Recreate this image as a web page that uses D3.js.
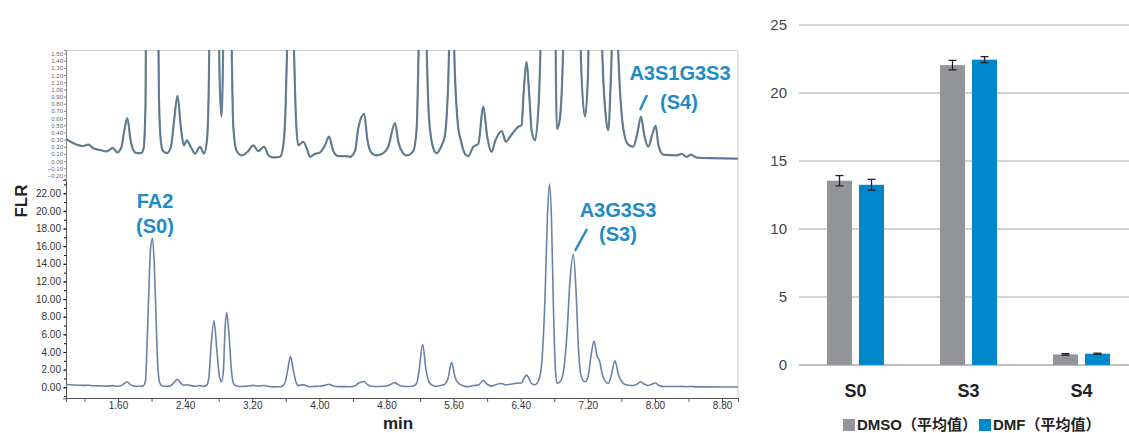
<!DOCTYPE html>
<html>
<head>
<meta charset="utf-8">
<script src="https://cdn.jsdelivr.net/npm/d3@7"></script>
<style>
  body { margin: 0; background: #fff; }
  svg { display: block; font-family: "Liberation Sans", Arial, sans-serif; }
</style>
</head>
<body>
<div id="chart"></div>
<script>
// ── Chromatogramme (temps de rétention en min, signal FLR) ──
const retention = [
  0.980, 1.067, 1.186, 1.246, 1.305, 1.385, 1.465, 1.537, 1.591, 1.642,
  1.671, 1.711, 1.749, 1.779, 1.814, 1.874, 1.904, 1.928, 1.945, 1.966,
  1.987, 2.011, 2.032, 2.053, 2.071, 2.088, 2.109, 2.136, 2.184, 2.231,
  2.267, 2.309, 2.351, 2.386, 2.419, 2.470, 2.518, 2.577, 2.625, 2.661,
  2.684, 2.708, 2.744, 2.780, 2.810, 2.833, 2.857, 2.875, 2.895, 2.923,
  2.953, 2.976, 3.015, 3.074, 3.153, 3.212, 3.272, 3.340, 3.394, 3.451,
  3.531, 3.570, 3.596, 3.620, 3.656, 3.692, 3.721, 3.749, 3.808, 3.849,
  3.888, 3.948, 4.007, 4.067, 4.115, 4.166, 4.226, 4.305, 4.365, 4.425,
  4.464, 4.535, 4.571, 4.624, 4.683, 4.762, 4.821, 4.901, 4.941, 4.981,
  5.041, 5.119, 5.160, 5.187, 5.231, 5.271, 5.307, 5.358, 5.398, 5.458,
  5.497, 5.533, 5.577, 5.616, 5.652, 5.688, 5.736, 5.775, 5.835, 5.894,
  5.954, 6.001, 6.054, 6.093, 6.173, 6.224, 6.272, 6.332, 6.371, 6.411,
  6.433, 6.471, 6.502, 6.531, 6.570, 6.618, 6.653, 6.689, 6.719, 6.743,
  6.767, 6.790, 6.814, 6.832, 6.862, 6.904, 6.951, 6.987, 7.027, 7.059,
  7.088, 7.118, 7.166, 7.202, 7.237, 7.273, 7.309, 7.339, 7.375, 7.416,
  7.444, 7.476, 7.524, 7.563, 7.623, 7.682, 7.742, 7.792, 7.833, 7.875,
  7.920, 7.970, 8.009, 8.042, 8.099, 8.259, 8.318, 8.378, 8.429, 8.497,
  8.656, 8.990
];
const signal = [
  0.31, 0.25, 0.21, 0.23, 0.18, 0.155, 0.135, 0.185, 0.12, 0.20,
  0.40, 0.60, 0.30, 0.16, 0.115, 0.11, 0.17, 0.80, 4.5, 10.5,
  15.6, 16.9, 14.0, 8.0, 3.0, 0.9, 0.30, 0.14, 0.11, 0.20,
  0.55, 0.91, 0.45, 0.22, 0.29, 0.19, 0.105, 0.20, 0.105, 0.30,
  1.2, 4.5, 7.55, 4.0, 1.2, 0.62, 2.0, 6.5, 8.45, 6.0,
  1.8, 0.45, 0.14, 0.08, 0.14, 0.22, 0.14, 0.20, 0.08, 0.05,
  0.06, 0.22, 0.70, 1.8, 3.47, 1.8, 0.60, 0.22, 0.27, 0.18,
  0.06, 0.10, 0.12, 0.22, 0.34, 0.14, 0.07, 0.07, 0.06, 0.14,
  0.46, 0.66, 0.31, 0.11, 0.08, 0.11, 0.20, 0.53, 0.27, 0.14,
  0.08, 0.14, 0.46, 1.8, 4.87, 2.0, 0.60, 0.18, 0.11, 0.22,
  0.36, 1.0, 2.8, 1.2, 0.50, 0.28, 0.10, 0.07, 0.20, 0.24,
  0.76, 0.34, 0.13, 0.27, 0.42, 0.27, 0.34, 0.43, 0.48, 0.50,
  0.92, 1.38, 0.92, 0.42, 0.29, 0.9, 3.0, 10.0, 19.5, 23.05,
  19.0, 9.0, 2.0, 0.45, 0.55, 1.5, 6.0, 12.0, 15.08, 11.0,
  4.5, 1.4, 0.62, 1.2, 3.5, 5.25, 3.6, 3.0, 1.4, 0.60,
  0.43, 1.2, 3.0, 1.5, 0.45, 0.23, 0.20, 0.40, 0.62, 0.35,
  0.20, 0.38, 0.49, 0.22, 0.09, 0.08, 0.10, 0.06, 0.09, 0.05,
  0.04, 0.035
];
const timeTicks = d3.range(3, 23).map(i => +(i * 0.4).toFixed(2));   // 1.20 … 8.80
const flrTicks = d3.range(0, 12).map(i => i * 2);                      // 0 … 22
const zoomTicks = d3.range(-2, 16).map(i => i / 10);                   // -0.20 … 1.50

// ── Histogramme (moyennes et écarts) ──
const categories = ['S0', 'S3', 'S4'];
const series = ['DMSO（平均值）', 'DMF（平均值）'];
const dmsoMean = [13.55, 22.05, 0.78];
const dmsoErr  = [0.38, 0.35, 0.05];
const dmfMean  = [13.25, 22.45, 0.83];
const dmfErr   = [0.40, 0.22, 0.04];
const barTicks = [0, 5, 10, 15, 20, 25];

const COL = { ink: '#222', axis: '#555', frame: '#d2d2d2', trace: '#6a82aa', traceTop: '#5d769c',
              label: '#1e8bc6', grey: '#939598', blue: '#0088cd', grid: '#c3c3c3' };
const W = 1129, H = 433;

const svg = d3.select('#chart').append('svg').attr('width', W).attr('height', H);
const defs = svg.append('defs');
defs.append('clipPath').attr('id', 'clipTop').append('rect')
  .attr('x', 66).attr('y', 50).attr('width', 672).attr('height', 129);
defs.append('clipPath').attr('id', 'clipLow').append('rect')
  .attr('x', 66).attr('y', 180).attr('width', 672).attr('height', 218);

// ═══ chromatogramme ═══
const x = d3.scaleLinear().domain([0.98, 8.99]).range([66, 738]);
const yLow = d3.scaleLinear().domain([-1.25, 23.5]).range([398.3, 180]);
const yTop = d3.scaleLinear().domain([-0.25, 1.55]).range([179, 50]);
const pts = retention.map((t, i) => [t, signal[i]]);

// cadre léger de l'encart
const frame = svg.append('g').attr('stroke', COL.frame).attr('stroke-width', 1.2);
frame.append('line').attr('x1', 66).attr('x2', 738).attr('y1', 50.5).attr('y2', 50.5);
frame.append('line').attr('x1', 738).attr('x2', 738).attr('y1', 50).attr('y2', 398);

// encart zoomé
const gTop = svg.append('g');
const axTop = gTop.append('g').attr('transform', 'translate(66,0)')
  .call(d3.axisLeft(yTop).tickValues(zoomTicks).tickFormat(d3.format('.2f')).tickSize(2).tickPadding(1));
axTop.selectAll('text').attr('font-size', 6).attr('fill', '#666');
axTop.selectAll('line').attr('stroke', '#888');
axTop.select('.domain').attr('stroke', '#888');

const lineTop = d3.line().x(d => x(d[0])).y(d => yTop(d[1])).curve(d3.curveMonotoneX);
gTop.append('path').datum(pts)
  .attr('clip-path', 'url(#clipTop)')
  .attr('fill', 'none').attr('stroke', '#6f8f86').attr('stroke-width', 2.2)
  .attr('d', lineTop);
gTop.append('path').datum(pts)
  .attr('clip-path', 'url(#clipTop)')
  .attr('fill', 'none').attr('stroke', COL.traceTop).attr('stroke-width', 1.3)
  .attr('d', lineTop);

// panneau principal
const gLow = svg.append('g');
const axY = gLow.append('g').attr('transform', 'translate(66,0)')
  .call(d3.axisLeft(yLow).tickValues(flrTicks).tickFormat(d3.format('.2f')).tickSize(3).tickPadding(2));
axY.selectAll('text').attr('font-size', 10).attr('fill', '#333');
gLow.append('g').attr('transform', 'translate(66,0)')
  .call(d3.axisLeft(yLow).tickValues(d3.range(-1, 24)).tickFormat('').tickSize(2))
  .call(g => g.select('.domain').remove());

const axX = gLow.append('g').attr('transform', 'translate(0,398)')
  .call(d3.axisBottom(x).tickValues(timeTicks)
    .tickFormat(d => (Math.round(d / 0.4) % 2 === 0 ? d3.format('.2f')(d) : ''))
    .tickSize(4).tickPadding(0));
axX.selectAll('text').attr('font-size', 10).attr('fill', '#333');
[axY, axX].forEach(a => { a.selectAll('line').attr('stroke', COL.axis); a.select('.domain').attr('stroke', COL.axis); });

gLow.append('path').datum(pts)
  .attr('clip-path', 'url(#clipLow)')
  .attr('fill', 'none').attr('stroke', COL.trace).attr('stroke-width', 1.6)
  .attr('d', d3.line().x(d => x(d[0])).y(d => yLow(d[1])).curve(d3.curveMonotoneX));

// titres d'axes
svg.append('text').attr('transform', 'translate(27,201) rotate(-90)')
  .attr('text-anchor', 'middle').attr('font-size', 17).attr('font-weight', 700)
  .attr('fill', COL.ink).text('FLR');
svg.append('text').attr('x', 398).attr('y', 429)
  .attr('text-anchor', 'middle').attr('font-size', 17).attr('font-weight', 700)
  .attr('fill', COL.ink).text('min');

// annotations des pics
function note(xp, yp, txt) {
  svg.append('text').attr('x', xp).attr('y', yp).attr('text-anchor', 'middle')
    .attr('font-size', 20).attr('font-weight', 700).attr('fill', COL.label).text(txt);
}
note(155, 208, 'FA2');
note(155, 233, '(S0)');
note(618, 217, 'A3G3S3');
note(618, 241, '(S3)');
note(680, 80, 'A3S1G3S3');
note(679, 109, '(S4)');
const slash = svg.append('g').attr('stroke', COL.label).attr('stroke-width', 2.4);
slash.append('line').attr('x1', 587).attr('y1', 229).attr('x2', 575).attr('y2', 251);
slash.append('line').attr('x1', 647).attr('y1', 95).attr('x2', 640).attr('y2', 110);

// ═══ histogramme ═══
const xb = d3.scaleBand().domain(categories).range([799, 1138]).paddingInner(0.4955).paddingOuter(0.2478);
const xs = d3.scaleBand().domain(series).range([0, xb.bandwidth()]).paddingInner(0.219);
const yb = d3.scaleLinear().domain([0, 25]).range([365, 25]);
const colors = d3.scaleOrdinal().domain(series).range([COL.grey, COL.blue]);

const gBar = svg.append('g');
barTicks.forEach(t => {
  gBar.append('line').attr('x1', 799).attr('x2', W).attr('y1', yb(t)).attr('y2', yb(t))
    .attr('stroke', t === 0 ? '#aaa' : COL.grid).attr('stroke-width', 1.4);
  gBar.append('text').attr('x', 787).attr('y', yb(t)).attr('dy', '0.36em')
    .attr('text-anchor', 'end').attr('font-size', 15).attr('fill', '#444').text(t);
});

const rows = [];
categories.forEach((c, i) => {
  rows.push({ cat: c, ser: series[0], v: dmsoMean[i], e: dmsoErr[i] });
  rows.push({ cat: c, ser: series[1], v: dmfMean[i], e: dmfErr[i] });
});

gBar.selectAll('rect.bar').data(rows).join('rect').attr('class', 'bar')
  .attr('x', d => xb(d.cat) + xs(d.ser))
  .attr('y', d => yb(d.v))
  .attr('width', xs.bandwidth())
  .attr('height', d => yb(0) - yb(d.v))
  .attr('fill', d => colors(d.ser));

const err = gBar.selectAll('g.err').data(rows).join('g').attr('class', 'err')
  .attr('stroke', '#222').attr('stroke-width', 1.3);
err.append('line')
  .attr('x1', d => xb(d.cat) + xs(d.ser) + xs.bandwidth() / 2)
  .attr('x2', d => xb(d.cat) + xs(d.ser) + xs.bandwidth() / 2)
  .attr('y1', d => yb(d.v + d.e)).attr('y2', d => yb(d.v - d.e));
[1, -1].forEach(s => {
  err.append('line')
    .attr('x1', d => xb(d.cat) + xs(d.ser) + xs.bandwidth() / 2 - 4)
    .attr('x2', d => xb(d.cat) + xs(d.ser) + xs.bandwidth() / 2 + 4)
    .attr('y1', d => yb(d.v + s * d.e)).attr('y2', d => yb(d.v + s * d.e));
});

gBar.selectAll('text.cat').data(categories).join('text').attr('class', 'cat')
  .attr('x', d => xb(d) + xb.bandwidth() / 2).attr('y', 397)
  .attr('text-anchor', 'middle').attr('font-size', 18).attr('font-weight', 700)
  .attr('fill', COL.ink).text(d => d);

// légende
const leg = svg.append('g').attr('font-family', '"Liberation Sans", "Noto Sans CJK SC", sans-serif');
let lx = 843;
series.forEach(s => {
  leg.append('rect').attr('x', lx).attr('y', 419).attr('width', 12).attr('height', 12).attr('fill', colors(s));
  const t = leg.append('text').attr('x', lx + 14).attr('y', 430)
    .attr('font-size', 15).attr('font-weight', 700).attr('fill', COL.ink).text(s);
  lx += 14 + t.node().getComputedTextLength() + 2;
});
</script>
</body>
</html>
